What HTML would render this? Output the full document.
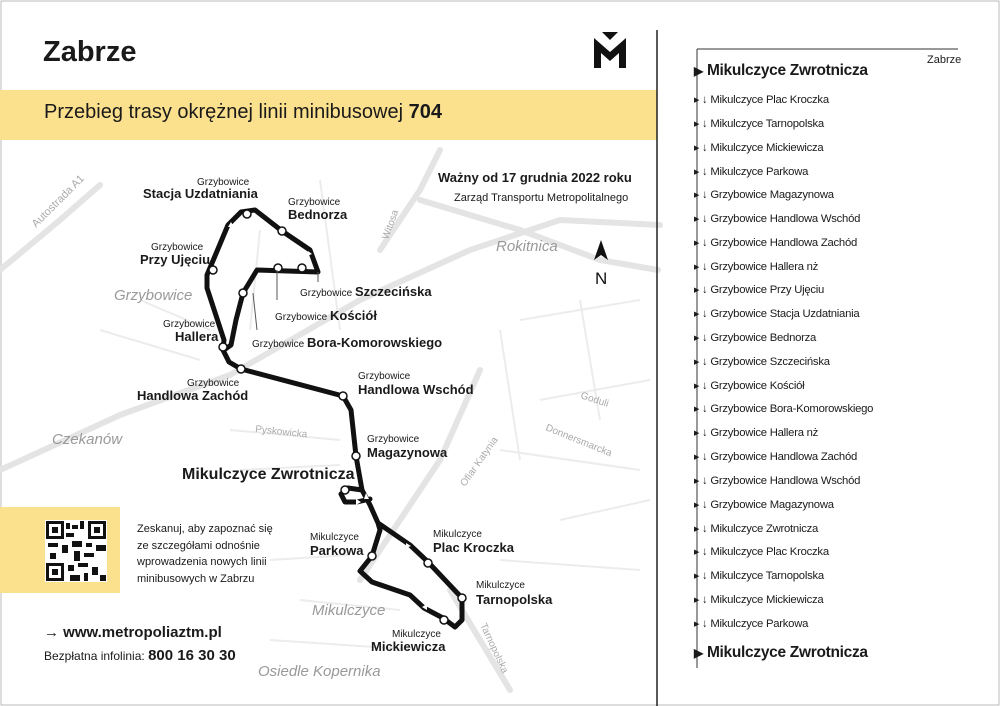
<!DOCTYPE html>
<html><head><meta charset="utf-8"><style>
body{margin:0;width:1000px;height:706px;background:#fff;font-family:"Liberation Sans",sans-serif;overflow:hidden;position:relative}
.t{position:absolute;white-space:nowrap;color:#1a1a1a}
.li{position:absolute;left:694px;height:16px;line-height:16px;font-size:11.3px;letter-spacing:-0.25px;white-space:nowrap;color:#1a1a1a}
.li i{font-style:normal;font-size:7px;vertical-align:1px}
</style></head><body>
<svg width="1000" height="706" style="position:absolute;left:0;top:0" font-family="Liberation Sans, sans-serif">
<rect x="0" y="0" width="1000" height="706" fill="#fff"/>
<rect x="1" y="1" width="998" height="704" fill="none" stroke="#bbb" stroke-width="1"/>
<g stroke="#e4e4e4" stroke-width="6" fill="none" stroke-linecap="round">
<path d="M0 470 L120 415 L230 375 L360 300 L470 250 L560 220 L660 225"/>
<path d="M0 270 L60 220 L100 185"/>
<path d="M380 250 L420 190 L440 150"/>
<path d="M480 370 L440 460 L400 520 L360 580"/>
<path d="M450 590 L480 640 L510 690"/>
<path d="M420 200 L520 230 L600 260 L658 270"/>
</g>
<g stroke="#ececec" stroke-width="2" fill="none">
<path d="M230 430 L340 440 M240 470 L340 465 M270 560 L350 555 M300 600 L400 610 M270 640 L420 650 M520 320 L640 300 M540 400 L650 380 M500 450 L640 470 M560 520 L650 500 M500 560 L640 570 M500 330 L520 460 M580 300 L600 420 M140 300 L210 330 M100 330 L200 360 M260 230 L250 330 M320 180 L340 330"/>
</g>
<text x="36" y="228" transform="rotate(-45 36 228)" font-size="11" fill="#aaa">Autostrada A1</text>
<text x="388" y="240" transform="rotate(-70 388 240)" font-size="10" fill="#aaa">Witosa</text>
<text x="255" y="432" transform="rotate(6 255 432)" font-size="10" fill="#aaa">Pyskowicka</text>
<text x="580" y="398" transform="rotate(18 580 398)" font-size="10" fill="#aaa">Goduli</text>
<text x="545" y="430" transform="rotate(22 545 430)" font-size="10" fill="#aaa">Donnersmarcka</text>
<text x="465" y="487" transform="rotate(-55 465 487)" font-size="10" fill="#aaa">Ofiar Katynia</text>
<text x="480" y="625" transform="rotate(65 480 625)" font-size="10" fill="#aaa">Tarnopolska</text>
<g font-style="italic" font-size="15" fill="#999">
<text x="114" y="300">Grzybowice</text>
<text x="496" y="251">Rokitnica</text>
<text x="52" y="444">Czekanów</text>
<text x="312" y="615">Mikulczyce</text>
<text x="258" y="676">Osiedle Kopernika</text>
</g>
<rect x="0" y="90" width="657" height="50" fill="#fbe08e"/>
<rect x="0" y="507" width="120" height="86" fill="#fbe08e"/>
<rect x="45" y="520" width="62" height="62" fill="#fff"/>
<g fill="#111">
<rect x="46" y="521" width="18" height="18"/><rect x="88" y="521" width="18" height="18"/><rect x="46" y="563" width="18" height="18"/>
<rect x="66" y="523" width="4" height="6"/><rect x="72" y="525" width="6" height="4"/><rect x="80" y="521" width="4" height="8"/>
<rect x="66" y="533" width="8" height="4"/><rect x="48" y="543" width="10" height="4"/><rect x="62" y="545" width="6" height="8"/>
<rect x="72" y="541" width="10" height="6"/><rect x="86" y="543" width="6" height="4"/><rect x="96" y="545" width="10" height="6"/>
<rect x="50" y="553" width="6" height="6"/><rect x="74" y="551" width="6" height="10"/><rect x="84" y="553" width="10" height="4"/>
<rect x="68" y="565" width="6" height="6"/><rect x="78" y="563" width="10" height="4"/><rect x="92" y="567" width="6" height="8"/>
<rect x="70" y="575" width="10" height="6"/><rect x="84" y="573" width="4" height="8"/><rect x="100" y="575" width="6" height="6"/>
</g>
<g fill="#fff"><rect x="49" y="524" width="12" height="12"/><rect x="91" y="524" width="12" height="12"/><rect x="49" y="566" width="12" height="12"/></g>
<g fill="#111"><rect x="52" y="527" width="6" height="6"/><rect x="94" y="527" width="6" height="6"/><rect x="52" y="569" width="6" height="6"/></g>
<path d="M594 68 L594 38 L610 52 L626 38 L626 68 L619 68 L619 53 L610 61 L601 53 L601 68 Z" fill="#111"/>
<path d="M602 32 L610 40 L618 32 Z" fill="#111"/>
<path d="M601 240 L594 260 L601 255 L608 260 Z" fill="#111"/>
<text x="595" y="284" font-size="17" fill="#111">N</text>
<g stroke="#111" stroke-width="5" fill="none" stroke-linejoin="round" stroke-linecap="round">
<path d="M241 369 L229 362 L223 350 L224 340 L207 288 L207 275 L228 225 L241 212 L255 210 L282 231 L310 250 L318 272 L257 270 L243 293 L236 320 L231 345 L224 350"/>
<path d="M241 369 L343 396 L351 410 L356 456 L362 490 L348 488 L341 494 L345 502 L357 502 L370 499"/>
<path d="M362 490 L370 505 L378 523 L410 545 L428 562 L462 598 L462 620 L455 627 L443 618 L424 608 L410 595 L372 582 L360 571 L372 556 L380 530 L378 523"/>
</g>
<g fill="#fff" stroke="#111" stroke-width="1.5">
<circle cx="223" cy="347" r="4"/><circle cx="213" cy="270" r="4"/><circle cx="247" cy="214" r="4"/><circle cx="282" cy="231" r="4"/>
<circle cx="302" cy="268" r="4"/><circle cx="278" cy="268" r="4"/><circle cx="243" cy="293" r="4"/><circle cx="241" cy="369" r="4"/>
<circle cx="343" cy="396" r="4"/><circle cx="356" cy="456" r="4"/><circle cx="345" cy="490" r="4"/><circle cx="428" cy="563" r="4"/>
<circle cx="462" cy="598" r="4"/><circle cx="444" cy="620" r="4"/><circle cx="372" cy="556" r="4"/>
</g>
<g fill="#fff"><path d="M231 222 l-3 5 l6 0z M221 295 l-5 -2 l1 5z M312 254 l-4 -3 l-1 5z M366 493 l-2 6 l5 0z M361 502 l-5 -3 l0 6z M411 546 l-5 -3 l0 5z M422 607 l5 -3 l0 6z"/></g>
<g stroke="#555" stroke-width="1"><path d="M277 270 L277 300 M318 272 L318 282 M253 293 L257 330"/></g>
<line x1="657" y1="30" x2="657" y2="706" stroke="#222" stroke-width="1.5"/>
<line x1="697" y1="49" x2="958" y2="49" stroke="#333" stroke-width="1"/>
<line x1="697" y1="49" x2="697" y2="668" stroke="#333" stroke-width="1"/>
</svg>
<div class="t" style="left:43px;top:36px;font-size:29px;font-weight:bold">Zabrze</div>
<div class="t" style="left:44px;top:101px;font-size:20px">Przebieg trasy okrężnej linii minibusowej <b>704</b></div>
<div class="t" style="left:438px;top:170px;font-size:13px;font-weight:bold">Ważny od 17 grudnia 2022 roku</div>
<div class="t" style="left:454px;top:192px;font-size:11px">Zarząd Transportu Metropolitalnego</div>
<div class="t" style="left:137px;top:521px;font-size:11px;line-height:16.5px">Zeskanuj, aby zapoznać się<br>ze szczegółami odnośnie<br>wprowadzenia nowych linii<br>minibusowych w Zabrzu</div>
<div class="t" style="left:44px;top:624px;font-size:15px;font-weight:bold">→ www.metropoliaztm.pl</div>
<div class="t" style="left:44px;top:647px;font-size:12px">Bezpłatna infolinia: <span style="font-size:15px;font-weight:bold">800 16 30 30</span></div>
<div class="t" style="left:182px;top:466px;font-size:16px;font-weight:bold">Mikulczyce Zwrotnicza</div>
<div style="font-size:10px;line-height:13px">
<div class="t" style="left:197px;top:176px">Grzybowice</div>
<div class="t" style="left:143px;top:187px;font-size:13px;font-weight:bold">Stacja Uzdatniania</div>
<div class="t" style="left:288px;top:196px">Grzybowice</div>
<div class="t" style="left:288px;top:208px;font-size:13px;font-weight:bold">Bednorza</div>
<div class="t" style="left:151px;top:241px">Grzybowice</div>
<div class="t" style="left:140px;top:253px;font-size:13px;font-weight:bold">Przy Ujęciu</div>
<div class="t" style="left:300px;top:285px">Grzybowice <span style="font-size:13px;font-weight:bold">Szczecińska</span></div>
<div class="t" style="left:275px;top:309px">Grzybowice <span style="font-size:13px;font-weight:bold">Kościół</span></div>
<div class="t" style="left:252px;top:336px">Grzybowice <span style="font-size:13px;font-weight:bold">Bora-Komorowskiego</span></div>
<div class="t" style="left:163px;top:318px">Grzybowice</div>
<div class="t" style="left:175px;top:330px;font-size:13px;font-weight:bold">Hallera</div>
<div class="t" style="left:187px;top:377px">Grzybowice</div>
<div class="t" style="left:137px;top:389px;font-size:13px;font-weight:bold">Handlowa Zachód</div>
<div class="t" style="left:358px;top:370px">Grzybowice</div>
<div class="t" style="left:358px;top:383px;font-size:13px;font-weight:bold">Handlowa Wschód</div>
<div class="t" style="left:367px;top:433px">Grzybowice</div>
<div class="t" style="left:367px;top:446px;font-size:13px;font-weight:bold">Magazynowa</div>
<div class="t" style="left:310px;top:531px">Mikulczyce</div>
<div class="t" style="left:310px;top:544px;font-size:13px;font-weight:bold">Parkowa</div>
<div class="t" style="left:433px;top:528px">Mikulczyce</div>
<div class="t" style="left:433px;top:541px;font-size:13px;font-weight:bold">Plac Kroczka</div>
<div class="t" style="left:476px;top:579px">Mikulczyce</div>
<div class="t" style="left:476px;top:593px;font-size:13px;font-weight:bold">Tarnopolska</div>
<div class="t" style="left:392px;top:628px">Mikulczyce</div>
<div class="t" style="left:371px;top:640px;font-size:13px;font-weight:bold">Mickiewicza</div>
</div>
<div class="t" style="left:927px;top:54px;font-size:11px">Zabrze</div>
<div class="t" style="left:694px;top:62px;font-size:15.5px;font-weight:bold;letter-spacing:-0.3px"><span style="font-size:12px">▶</span> Mikulczyce Zwrotnicza</div>
<div class="li" style="top:92px"><i>▶</i> ↓ Mikulczyce Plac Kroczka</div>
<div class="li" style="top:116px"><i>▶</i> ↓ Mikulczyce Tarnopolska</div>
<div class="li" style="top:140px"><i>▶</i> ↓ Mikulczyce Mickiewicza</div>
<div class="li" style="top:164px"><i>▶</i> ↓ Mikulczyce Parkowa</div>
<div class="li" style="top:187px"><i>▶</i> ↓ Grzybowice Magazynowa</div>
<div class="li" style="top:211px"><i>▶</i> ↓ Grzybowice Handlowa Wschód</div>
<div class="li" style="top:235px"><i>▶</i> ↓ Grzybowice Handlowa Zachód</div>
<div class="li" style="top:259px"><i>▶</i> ↓ Grzybowice Hallera nż</div>
<div class="li" style="top:282px"><i>▶</i> ↓ Grzybowice Przy Ujęciu</div>
<div class="li" style="top:306px"><i>▶</i> ↓ Grzybowice Stacja Uzdatniania</div>
<div class="li" style="top:330px"><i>▶</i> ↓ Grzybowice Bednorza</div>
<div class="li" style="top:354px"><i>▶</i> ↓ Grzybowice Szczecińska</div>
<div class="li" style="top:378px"><i>▶</i> ↓ Grzybowice Kościół</div>
<div class="li" style="top:401px"><i>▶</i> ↓ Grzybowice Bora-Komorowskiego</div>
<div class="li" style="top:425px"><i>▶</i> ↓ Grzybowice Hallera nż</div>
<div class="li" style="top:449px"><i>▶</i> ↓ Grzybowice Handlowa Zachód</div>
<div class="li" style="top:473px"><i>▶</i> ↓ Grzybowice Handlowa Wschód</div>
<div class="li" style="top:497px"><i>▶</i> ↓ Grzybowice Magazynowa</div>
<div class="li" style="top:521px"><i>▶</i> ↓ Mikulczyce Zwrotnicza</div>
<div class="li" style="top:544px"><i>▶</i> ↓ Mikulczyce Plac Kroczka</div>
<div class="li" style="top:568px"><i>▶</i> ↓ Mikulczyce Tarnopolska</div>
<div class="li" style="top:592px"><i>▶</i> ↓ Mikulczyce Mickiewicza</div>
<div class="li" style="top:616px"><i>▶</i> ↓ Mikulczyce Parkowa</div>
<div class="t" style="left:694px;top:644px;font-size:15.5px;font-weight:bold;letter-spacing:-0.3px"><span style="font-size:12px">▶</span> Mikulczyce Zwrotnicza</div>
</body></html>
